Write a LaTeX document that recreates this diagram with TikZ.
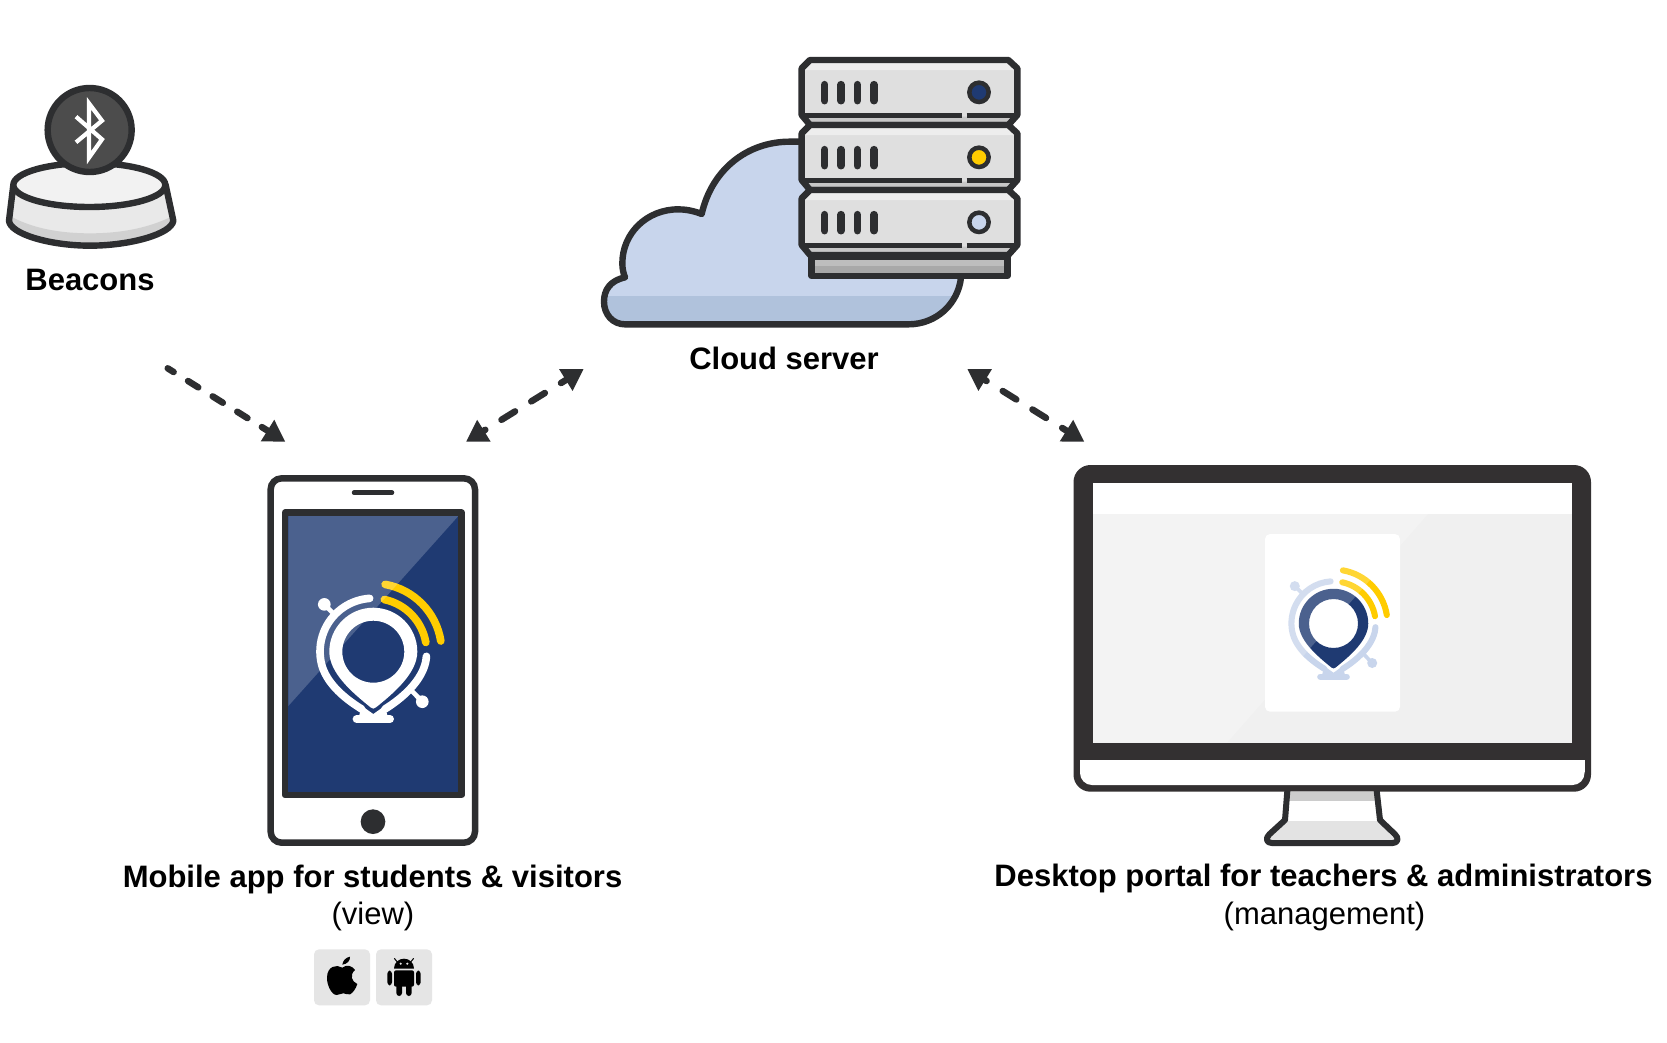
\documentclass[tikz,border=0pt]{standalone}
\usepackage{fontspec}
\setmainfont{Liberation Sans}
\usetikzlibrary{arrows.meta}
\definecolor{ink}{HTML}{2D2E30}
\definecolor{monink}{HTML}{333031}
\definecolor{navy}{HTML}{1F3A72}
\definecolor{sun}{HTML}{FFCC00}
\definecolor{sky}{HTML}{C8D5EC}
\definecolor{skydark}{HTML}{B0C2DC}
\definecolor{face}{HTML}{DFDFDF}
\tikzset{
  lab/.style={inner sep=0pt,anchor=base,font=\fontsize{31}{36}\selectfont\bfseries,text=black},
  sublab/.style={inner sep=0pt,anchor=base,font=\fontsize{31}{36}\selectfont,text=black},
  outl/.style={draw=ink,line width=6.4pt,line join=round,line cap=round},
  flow/.style={draw=ink,line width=6.5pt,line cap=round,
    tips=proper},
  onehead/.style={flow,-{Triangle[length=21pt,width=24pt]},dash pattern=on 12pt off 17pt,dash phase=5pt},
  twohead/.style={flow,{Triangle[length=21pt,width=24pt]}-{Triangle[length=21pt,width=24pt]},dash pattern=on 16pt off 19pt,dash phase=13pt},
  zoomed/.style 2 args={shift={(#1pt,-#2pt)},x=0.33333pt,y=-0.33333pt}
}
\newcommand{\locatorlogo}[5]{%
  \begin{scope}[shift={(#1pt,-#2pt)},x=#3pt,y=-#3pt,line cap=round]
    % ring
    \draw[#4,line width=#3*23pt] (-11,-160) arc[start angle=-94,end angle=-190,radius=160]
      .. controls (-145,100) and (-70,150) .. (-35,172);
    \draw[#4,line width=#3*23pt] (159.4,13.9) arc[start angle=5,end angle=12,radius=160]
      .. controls (140,100) and (70,150) .. (35,172);
    % knobs
    \draw[#4,line width=#3*14pt] (-147,-142) -- (-118,-113);
    \fill[#4] (-147,-142) circle[radius=19];
    \draw[#4,line width=#3*14pt] (147,150) -- (118,120);
    \fill[#4] (147,150) circle[radius=19];
    % stand
    \draw[#4,line width=#3*24pt] (-50,202) -- (50,202);
    \fill[#4] (-35,162) -- (0,187) -- (35,162) -- (45,202) -- (-45,202) -- cycle;
    % signal
    \draw[sun,line width=#3*23pt] (33.3,-156.5) arc[start angle=-78,end angle=-10,radius=160];
    \draw[sun,line width=#3*23pt] (35.6,-201.9) arc[start angle=-80,end angle=-9,radius=205];
    % pin
    \fill[#5,even odd rule] (-132,0) arc[start angle=180,end angle=360,radius=132]
      .. controls (132,65) and (60,125) .. (8,167)
      .. controls (3,172) and (-3,172) .. (-8,167)
      .. controls (-60,125) and (-132,65) .. (-132,0) -- cycle
      (93,0) arc[start angle=0,end angle=360,radius=93];
  \end{scope}}
\newcommand{\serverunit}[2]{%
  \fill[face] (660,#1) -- (1255,#1) -- (1282,#1+25) -- (1282,#1+165) -- (1255,#1+195)
     -- (660,#1+195) -- (635,#1+165) -- (635,#1+25) -- cycle;
  \fill[white!45!face] (655,#1+6) -- (1262,#1+6) -- (1278,#1+30) -- (640,#1+30) -- cycle;
  \fill[black!22] (640,#1+170) -- (1277,#1+170) -- (1255,#1+192) -- (660,#1+192) -- cycle;
  \draw[ink,line width=4.5pt] (640,#1+167) -- (1115,#1+167) (1130,#1+167) -- (1278,#1+167);
  \draw[outl] (660,#1) -- (1255,#1) -- (1282,#1+25) -- (1282,#1+165) -- (1255,#1+195)
     -- (660,#1+195) -- (635,#1+165) -- (635,#1+25) -- cycle;
  \foreach \sx in {704,753,802,852}{\draw[ink,line width=7.6pt,line cap=round] (\sx,#1+74) -- (\sx,#1+122);}
  \draw[ink,fill=#2,line width=4.5pt] (1167,#1+97) circle[radius=29];
}
\newcommand{\cloudpath}{(105,712) .. controls (60,722) and (42,750) .. (42,785)
   .. controls (42,825) and (70,853) .. (105,853) -- (955,853)
   .. controls (1040,853) and (1105,790) .. (1113,712) -- (1113,305) -- (600,305)
   .. controls (470,305) and (365,390) .. (335,522)
   .. controls (310,512) and (285,508) .. (265,508)
   .. controls (170,508) and (97,580) .. (97,670)
   .. controls (97,685) and (100,700) .. (105,712) -- cycle}
\begin{document}
\begin{tikzpicture}[x=1pt,y=-1pt]
\useasboundingbox (0,0) rectangle (1667,1042);
\fill[white] (0,0) rectangle (1667,1042);

% ---------- beacon
\begin{scope}[zoomed={0}{60}]
  \fill[face!70!white] (40,375) -- (27,482) .. controls (30,522) and (150,557) .. (270,557)
     .. controls (390,557) and (515,522) .. (520,482) -- (497,375) -- cycle;
  \begin{scope}
    \clip (40,375) -- (27,482) .. controls (30,522) and (150,557) .. (270,557)
     .. controls (390,557) and (515,522) .. (520,482) -- (497,375) -- cycle;
    \fill[black!18] (20,462) .. controls (90,505) and (180,520) .. (270,520)
      .. controls (360,520) and (450,505) .. (530,462) -- (530,570) -- (20,570) -- cycle;
  \end{scope}
  \draw[outl] (40,375) -- (27,482) .. controls (30,522) and (150,557) .. (270,557)
     .. controls (390,557) and (515,522) .. (520,482) -- (497,375);
  \draw[outl,fill=black!5] (268,375) ellipse[x radius=228,y radius=66];
  \draw[outl,fill=black!70] (269,210) circle[radius=126];
  \draw[white,line width=4.2pt,line join=miter,line cap=butt]
    (228,170) -- (306,238) -- (267,293) -- (267,130) -- (306,182) -- (228,247);
\end{scope}
\node[lab] (beaconlabel) at (90,290) {Beacons};

% ---------- cloud
\begin{scope}[zoomed={590}{40}]
  \fill[sky] \cloudpath;
  \begin{scope}
    \clip \cloudpath;
    \fill[skydark] (0,768) rectangle (1200,900);
  \end{scope}
  \draw[outl] \cloudpath;
  % server
  \fill[black!26] (665,650) rectangle (1252,708);
  \fill[black!34] (665,678) rectangle (1252,708);
  \draw[outl] (665,650) rectangle (1252,708);
  \serverunit{60}{navy}
  \serverunit{255}{sun}
  \serverunit{450}{sky}
\end{scope}
\node[lab] (cloudlabel) at (784,369) {Cloud server};

% ---------- phone
\begin{scope}[zoomed={250}{460}]
  \draw[ink,fill=white,line width=6.5pt,rounded corners=11pt] (62,55) rectangle (675,1148);
  \draw[ink,line width=4.5pt,line cap=round] (312,98) -- (426,98);
  \fill[navy] (105,158) rectangle (635,1005);
\end{scope}
\locatorlogo{373.3}{651.7}{0.33333}{white}{white}
\begin{scope}[zoomed={250}{460}]
  \fill[white,opacity=0.2] (115,168) -- (625,168) -- (115,738) -- cycle;
  \draw[ink,line width=6.5pt,line join=round] (105,158) rectangle (635,1005);
  \fill[ink] (369,1085) circle[radius=37];
\end{scope}
\node[lab] (mobilelabel) at (372.5,887) {Mobile app for students \& visitors};
\node[sublab] (mobilesub) at (373,924) {(view)};

% ---------- store icons
\begin{scope}[zoomed={300}{940}]
  \fill[black!10,rounded corners=5pt] (42,28) rectangle (210,196);
  \fill[black!10,rounded corners=5pt] (228,28) rectangle (396,196);
  % apple
  \fill[black] (127,83) .. controls (110,72) and (82,78) .. (81,112)
    .. controls (80,135) and (95,165) .. (110,165)
    .. controls (118,165) and (122,160) .. (130,160)
    .. controls (138,160) and (142,165) .. (150,163)
    .. controls (158,160) and (168,145) .. (172,132)
    .. controls (155,125) and (148,105) .. (165,90)
    .. controls (158,78) and (140,72) .. (127,83) -- cycle;
  \fill[black] (127,74) .. controls (128,62) and (138,52) .. (150,50)
    .. controls (151,62) and (142,72) .. (127,74) -- cycle;
  % android
  \fill[black] (282,86) .. controls (282,68) and (296,56) .. (312,56)
    .. controls (328,56) and (342,68) .. (342,86) -- cycle;
  \draw[black,line width=1pt] (283,55) -- (292,66) (341,55) -- (332,66);
  \fill[black!10] (302,71) circle[radius=3.5] (322,71) circle[radius=3.5];
  \fill[black,rounded corners=2pt] (282,91) -- (342,91) -- (342,140) -- (282,140) -- cycle;
  \fill[black,rounded corners=3pt] (262,92) rectangle (276,136);
  \fill[black,rounded corners=3pt] (348,92) rectangle (362,136);
  \fill[black,rounded corners=3pt] (289,130) rectangle (306,168);
  \fill[black,rounded corners=3pt] (318,130) rectangle (335,168);
\end{scope}

% ---------- monitor
\fill[monink,rounded corners=17pt] (1073.5,465) rectangle (1591,791.7);
\fill[white,rounded corners=12pt] (1080,760) -- (1080,785) -- (1584.5,785) -- (1584.5,760) -- cycle;
\fill[white] (1080,760) rectangle (1584.5,772);
\fill[black!6] (1093,483) rectangle (1572,742.7);
\fill[white] (1093,483) rectangle (1572,514);
\fill[white,rounded corners=5pt] (1265,534) rectangle (1400,711.7);
\locatorlogo{1333.5}{623.5}{0.2633}{sky}{navy}
\fill[white,opacity=0.2] (1093,514) -- (1428,514) -- (1227,742.7) -- (1093,742.7) -- cycle;
\begin{scope}[zoomed={1200}{740}]
  \fill[white] (262,155) -- (530,155) -- (540,240) -- (590,295) -- (205,295) -- (255,240) -- cycle;
  \fill[black!20] (265,155) rectangle (527,182);
  \fill[black!11] (258,243) -- (535,243) -- (585,300) -- (205,300) -- cycle;
  \draw[ink,line width=6pt,line join=round] (262,152) -- (255,240)
    -- (208,283) .. controls (195,295) and (200,309) .. (215,309)
    -- (578,309) .. controls (593,309) and (598,295) .. (585,283)
    -- (540,240) -- (530,152);
\end{scope}
\node[lab] (desktoplabel) at (1323.5,886) {Desktop portal for teachers \& administrators};
\node[sublab] (desktopsub) at (1324.5,924.5) {(management)};

% ---------- connectors
\coordinate (beaconout) at (167.7,368.3);
\coordinate (phonein) at (285.3,441.7);
\coordinate (phoneout) at (466,441.7);
\coordinate (cloudin) at (583.7,369);
\coordinate (cloudout) at (967.3,369);
\coordinate (deskin) at (1084.3,441.7);
\draw[onehead] (beaconout) -- (phonein);
\draw[twohead] (phoneout) -- (cloudin);
\draw[twohead] (cloudout) -- (deskin);
\end{tikzpicture}
\end{document}
